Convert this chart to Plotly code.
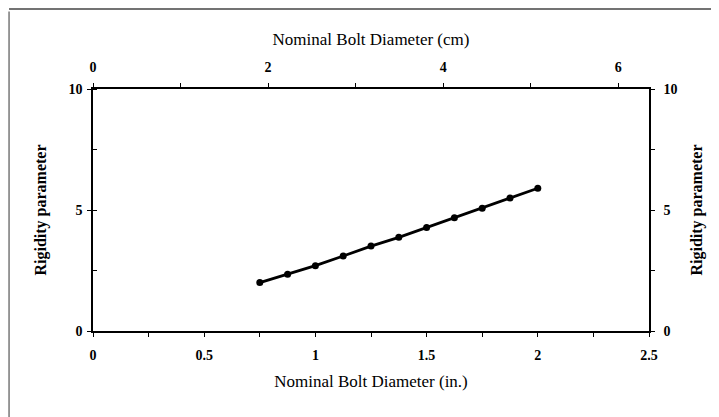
import plotly.graph_objects as go

diam_in = [0.75, 0.875, 1.0, 1.125, 1.25, 1.375, 1.5, 1.625, 1.75, 1.875, 2.0]
rigidity = [2.0, 2.34, 2.70, 3.10, 3.51, 3.87, 4.28, 4.68, 5.07, 5.50, 5.90]
x_ticks_in = [0, 0.5, 1, 1.5, 2, 2.5]
x_ticklabels_in = ["0", "0.5", "1", "1.5", "2", "2.5"]
x_ticks_cm = [0, 2, 4, 6]
y_ticks = [0, 5, 10]

font = "Liberation Serif"
fig = go.Figure()
fig.add_trace(go.Scatter(x=diam_in, y=rigidity, mode="lines+markers",
                         line=dict(color="black", width=2.8),
                         marker=dict(color="black", size=7), showlegend=False))
fig.add_trace(go.Scatter(x=[0], y=[0], xaxis="x2", yaxis="y2", mode="markers",
                         marker=dict(opacity=0), showlegend=False, hoverinfo="skip"))

def ax(**kw):
    d = dict(showgrid=False, zeroline=False, showline=True, linecolor="black", linewidth=1.5,
             ticks="outside", ticklen=4, tickcolor="black", tickwidth=1,
             tickfont=dict(family=font, size=14, color="black", weight="bold"))
    d.update(kw)
    return d

xt = dict(family=font, size=17, color="black")
yt = dict(family=font, size=16, color="black", weight="bold")

fig.update_layout(
    width=711, height=409,
    paper_bgcolor="white", plot_bgcolor="white",
    margin=dict(l=85, r=70, t=81, b=86),
    xaxis=ax(range=[0, 2.5], tickvals=x_ticks_in, ticktext=x_ticklabels_in, ticklabelstandoff=6,
             minor=dict(dtick=0.25, ticks="outside", ticklen=4, tickcolor="black"),
             title=dict(text="Nominal Bolt Diameter (in.)", font=xt, standoff=14)),
    xaxis2=ax(range=[0, 6.35], overlaying="x", side="top", tickvals=x_ticks_cm, ticklabelstandoff=6,
              minor=dict(dtick=1, ticks="outside", ticklen=4, tickcolor="black"),
              title=dict(text="Nominal Bolt Diameter (cm)", font=xt, standoff=10)),
    yaxis=ax(range=[0, 10], tickvals=y_ticks, ticklabelstandoff=2,
             minor=dict(dtick=2.5, ticks="inside", ticklen=4, tickcolor="black"),
             title=dict(text="Rigidity parameter", font=yt, standoff=18)),
    yaxis2=ax(range=[0, 10], overlaying="y", side="right", tickvals=y_ticks, ticklabelstandoff=6,
              minor=dict(dtick=2.5, ticks="outside", ticklen=4, tickcolor="black"),
              title=dict(text="Rigidity parameter", font=yt, standoff=14)),
    shapes=[
        dict(type="line", xref="paper", yref="paper", x0=-0.151, x1=1.13, y0=1.3306, y1=1.3306,
             line=dict(color="#444", width=1.5)),
        dict(type="line", xref="paper", yref="paper", x0=-0.151, x1=-0.151, y0=-0.36, y1=1.32,
             line=dict(color="#555", width=1.2)),
    ],
)
fig.write_html("out.html")
